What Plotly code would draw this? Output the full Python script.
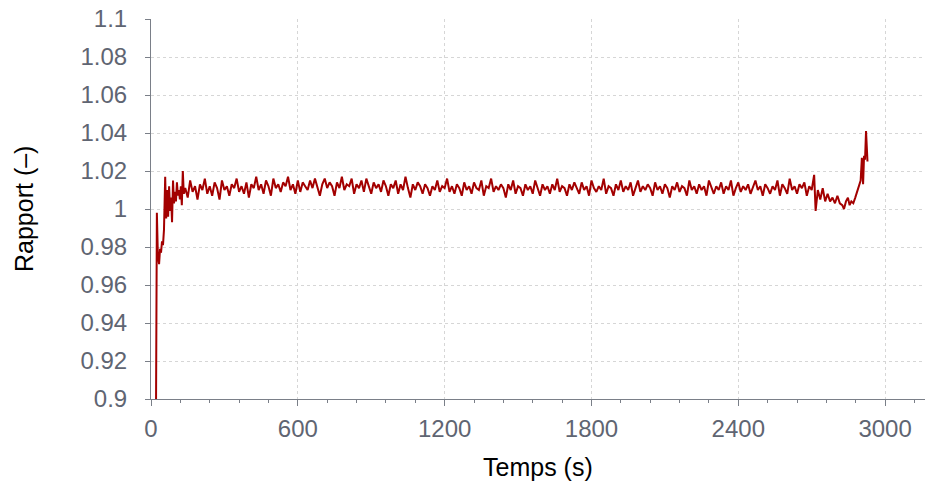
import plotly.graph_objects as go

# ---- data ----
TIME_S = [
    20, 24, 28, 33, 37, 41, 45, 49, 53, 58, 62, 66, 70, 74, 78, 82, 86, 90, 94, 98,
    102, 106, 110, 114, 118, 122, 126, 130, 134,
    140, 150, 160, 170, 180, 190, 200, 210, 220, 230,
    240, 250, 260, 270, 280, 290, 300, 310, 320, 330,
    340, 350, 360, 370, 380, 390, 400, 410, 420, 430,
    440, 450, 460, 470, 480, 490, 500, 510, 520, 530,
    540, 550, 560, 570, 580, 590, 600, 610, 620, 630,
    640, 650, 660, 670, 680, 690, 700, 710, 720, 730,
    740, 750, 760, 770, 780, 790, 800, 810, 820, 830,
    840, 850, 860, 870, 880, 890, 900, 910, 920, 930,
    940, 950, 960, 970, 980, 990, 1000, 1010, 1020, 1030,
    1040, 1050, 1060, 1070, 1080, 1090, 1100, 1110, 1120, 1130,
    1140, 1150, 1160, 1170, 1180, 1190, 1200, 1210, 1220, 1230,
    1240, 1250, 1260, 1270, 1280, 1290, 1300, 1310, 1320, 1330,
    1340, 1350, 1360, 1370, 1380, 1390, 1400, 1410, 1420, 1430,
    1440, 1450, 1460, 1470, 1480, 1490, 1500, 1510, 1520, 1530,
    1540, 1550, 1560, 1570, 1580, 1590, 1600, 1610, 1620, 1630,
    1640, 1650, 1660, 1670, 1680, 1690, 1700, 1710, 1720, 1730,
    1740, 1750, 1760, 1770, 1780, 1790, 1800, 1810, 1820, 1830,
    1840, 1850, 1860, 1870, 1880, 1890, 1900, 1910, 1920, 1930,
    1940, 1950, 1960, 1970, 1980, 1990, 2000, 2010, 2020, 2030,
    2040, 2050, 2060, 2070, 2080, 2090, 2100, 2110, 2120, 2130,
    2140, 2150, 2160, 2170, 2180, 2190, 2200, 2210, 2220, 2230,
    2240, 2250, 2260, 2270, 2280, 2290, 2300, 2310, 2320, 2330,
    2340, 2350, 2360, 2370, 2380, 2390, 2400, 2410, 2420, 2430,
    2440, 2450, 2460, 2470, 2480, 2490, 2500, 2510, 2520, 2530,
    2540, 2550, 2560, 2570, 2580, 2590, 2600, 2610, 2620, 2630,
    2640, 2650, 2660, 2670, 2680, 2690, 2700,
    2710, 2716, 2725, 2735, 2745, 2755, 2765, 2775, 2785, 2795,
    2805, 2815, 2825, 2832, 2840, 2848, 2855, 2862, 2870, 2878,
    2886, 2894, 2900, 2905, 2910, 2914, 2918, 2922, 2925, 2928,
]

RATIO = [
    0.880, 0.998, 0.976, 0.971, 0.979, 0.977, 0.983, 0.981, 0.989, 1.017, 0.995, 1.010, 0.996, 1.012, 0.999, 1.006, 0.993, 1.015, 1.003, 1.009,
    1.004, 1.014, 1.007, 1.010, 1.005, 1.012, 1.002, 1.020, 1.008,
    1.011, 1.006, 1.015, 1.009, 1.012, 1.005, 1.013, 1.010, 1.016, 1.008,
    1.012, 1.007, 1.014, 1.011, 1.005, 1.015, 1.010, 1.012, 1.007, 1.013,
    1.011, 1.016, 1.009, 1.012, 1.008, 1.014, 1.006, 1.013, 1.011, 1.017,
    1.010, 1.013, 1.008, 1.015, 1.012, 1.007, 1.016, 1.011, 1.013, 1.009,
    1.014, 1.012, 1.017, 1.010, 1.013, 1.008, 1.015, 1.009, 1.014, 1.012,
    1.010, 1.015, 1.011, 1.016, 1.012, 1.007, 1.013, 1.016, 1.011, 1.014,
    1.012, 1.007, 1.014, 1.011, 1.017, 1.010, 1.013, 1.012, 1.016, 1.008,
    1.013, 1.011, 1.015, 1.009, 1.016, 1.012, 1.008, 1.014, 1.011, 1.013,
    1.009, 1.015, 1.012, 1.007, 1.013, 1.011, 1.015, 1.008, 1.013, 1.010,
    1.017, 1.011, 1.006, 1.013, 1.010, 1.014, 1.012, 1.008, 1.013, 1.011,
    1.007, 1.012, 1.010, 1.015, 1.009, 1.012, 1.011, 1.016, 1.009, 1.012,
    1.008, 1.013, 1.011, 1.007, 1.014, 1.010, 1.012, 1.008, 1.014, 1.011,
    1.010, 1.015, 1.007, 1.012, 1.011, 1.016, 1.009, 1.012, 1.010, 1.013,
    1.011, 1.006, 1.013, 1.010, 1.015, 1.008, 1.012, 1.011, 1.007, 1.013,
    1.010, 1.012, 1.008, 1.015, 1.011, 1.007, 1.013, 1.010, 1.012, 1.008,
    1.013, 1.010, 1.016, 1.009, 1.012, 1.011, 1.007, 1.013, 1.010, 1.014,
    1.011, 1.008, 1.014, 1.010, 1.012, 1.007, 1.015, 1.011, 1.009, 1.012,
    1.010, 1.016, 1.008, 1.012, 1.011, 1.007, 1.013, 1.010, 1.015, 1.009,
    1.012, 1.010, 1.014, 1.007, 1.011, 1.015, 1.009, 1.012, 1.010, 1.013,
    1.011, 1.007, 1.014, 1.010, 1.012, 1.008, 1.013, 1.011, 1.006, 1.012,
    1.010, 1.014, 1.009, 1.012, 1.011, 1.007, 1.015, 1.010, 1.012, 1.008,
    1.013, 1.010, 1.012, 1.007, 1.015, 1.011, 1.008, 1.012, 1.010, 1.014,
    1.008, 1.012, 1.010, 1.015, 1.007, 1.011, 1.014, 1.009, 1.012, 1.010,
    1.013, 1.008, 1.011, 1.015, 1.010, 1.012, 1.007, 1.013, 1.011, 1.008,
    1.012, 1.010, 1.015, 1.007, 1.013, 1.011, 1.008, 1.016, 1.010, 1.012,
    1.008, 1.013, 1.011, 1.014, 1.007, 1.012, 1.010,
    1.018, 0.999, 1.010, 1.005, 1.011, 1.004, 1.008, 1.004, 1.006, 1.003,
    1.007, 1.003, 1.002, 1.000, 1.004, 1.006, 1.002, 1.004, 1.003, 1.006,
    1.009, 1.012, 1.015, 1.027, 1.013, 1.028, 1.026, 1.041, 1.026, 1.025,
]

Y_TICKS = [0.9, 0.92, 0.94, 0.96, 0.98, 1.0, 1.02, 1.04, 1.06, 1.08, 1.1]
Y_TICK_TEXT = ["0.9", "0.92", "0.94", "0.96", "0.98", "1", "1.02", "1.04", "1.06", "1.08", "1.1"]
X_TICKS = [0, 600, 1200, 1800, 2400, 3000]
X_TICK_TEXT = ["0", "600", "1200", "1800", "2400", "3000"]

FONT = "Liberation Sans, Arial, sans-serif"
TICK_COLOR = "#5f6572"
AXIS_COLOR = "#7a7f88"
GRID_COLOR = "#d6d6d6"

fig = go.Figure()
fig.add_trace(go.Scatter(
    x=TIME_S, y=RATIO, mode="lines",
    line=dict(color="#a30000", width=2),
    showlegend=False,
))

fig.update_layout(
    width=925, height=486,
    margin=dict(l=151, r=0, t=19, b=87),
    paper_bgcolor="white", plot_bgcolor="white",
    font=dict(family=FONT, size=24, color=TICK_COLOR),
    annotations=[
        dict(text="Temps (s)", xref="paper", yref="paper", x=0.5, y=0,
             yshift=-68, xanchor="center", yanchor="middle", showarrow=False,
             font=dict(family=FONT, size=25, color="#000000")),
        dict(text="Rapport (\u2013)", xref="paper", yref="paper", x=0, y=0.5,
             xshift=-127, xanchor="center", yanchor="middle", showarrow=False, textangle=-90,
             font=dict(family=FONT, size=25, color="#000000")),
    ],
)

fig.update_xaxes(
    range=[0, 3163], automargin=False,
    tickvals=X_TICKS, ticktext=X_TICK_TEXT,
    ticks="outside", ticklen=6, tickcolor=AXIS_COLOR, tickwidth=1,
    showline=True, linecolor=AXIS_COLOR, linewidth=1,
    showgrid=True, gridcolor=GRID_COLOR, griddash="dot", gridwidth=1,
    zeroline=False,
    minor=dict(dtick=120, tick0=0, ticks="outside", ticklen=3, tickcolor=AXIS_COLOR, showgrid=False),
    tickfont=dict(family=FONT, size=24, color=TICK_COLOR),
    ticklabelstandoff=2, ticklabeloverflow="allow",
)

fig.update_yaxes(
    range=[0.9, 1.1], automargin=False,
    tickvals=Y_TICKS, ticktext=Y_TICK_TEXT,
    ticks="outside", ticklen=5, tickcolor=AXIS_COLOR, tickwidth=1,
    showline=True, linecolor=AXIS_COLOR, linewidth=1,
    showgrid=True, gridcolor=GRID_COLOR, griddash="dot", gridwidth=1,
    zeroline=False,
    tickfont=dict(family=FONT, size=24, color=TICK_COLOR),
    ticklabelstandoff=13, ticklabeloverflow="allow",
)

fig.write_html(
    "out.html",
    config={"displayModeBar": False},
    post_script="document.body.style.margin='0px';",
)
